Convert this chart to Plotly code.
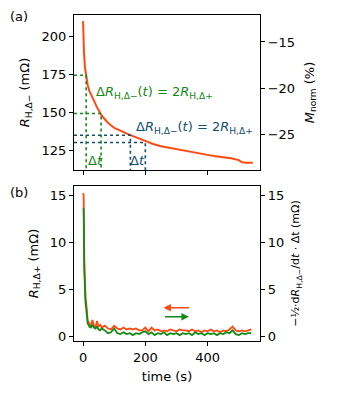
import plotly.graph_objects as go

# panel (a): R_H,Delta- vs time
t_a = [0, 1, 3, 6, 10, 15, 20, 30, 45, 60, 80, 100, 125, 150, 175, 200, 225, 250,
       275, 300, 325, 350, 375, 400, 425, 450, 475, 500, 510, 525, 545]
r_minus = [210, 200, 190, 180, 173.5, 168, 164.5, 160, 153.5, 148, 143.5, 140, 137.5,
           135.5, 133.5, 131.3, 129.5, 128, 127, 126, 125, 124, 123, 122.4, 121.5,
           120.8, 120.2, 119, 117.5, 117.2, 117.3]

# dotted construction lines: (t, level) pairs
green_t = [10, 58]
green_lvl = [174.5, 149.5]
blue_t = [152, 200]
blue_lvl = [135.3, 130.5]

# panel (b)
t_b = [0, 2, 4, 6, 8, 10, 12, 15, 18, 20, 25, 30, 35, 40, 45, 50, 55, 60, 70, 80, 90,
       100, 110, 120, 130, 140, 150, 160, 170, 180, 190, 200, 210, 220, 230, 240, 250,
       260, 270, 280, 290, 300, 310, 320, 330, 340, 350, 360, 370, 380, 390, 400, 410,
       420, 430, 440, 450, 460, 470, 480, 490, 500, 510, 520, 530, 540]
r_plus = [15.2, 15.0, 8.0, 4.0, 4.0, 3.6, 2.5, 1.6, 1.5, 1.3, 1.0, 1.7, 1.1, 1.0, 1.6,
          1.0, 1.2, 0.9, 1.1, 0.8, 0.7, 1.1, 0.8, 0.7, 0.9, 0.7, 0.8, 0.7, 0.8, 0.6,
          0.6, 0.9, 0.5, 0.9, 0.6, 0.7, 0.5, 0.6, 0.5, 0.7, 0.6, 0.5, 0.7, 0.6, 0.6,
          0.5, 0.7, 0.5, 0.6, 0.4, 0.6, 0.5, 0.7, 0.5, 0.6, 0.4, 0.6, 0.5, 0.7, 1.0,
          0.6, 0.5, 0.6, 0.5, 0.6, 0.7]
deriv = [13.6, 13.5, 7.0, 3.8, 3.5, 3.0, 2.0, 1.3, 1.2, 1.0, 0.9, 1.2, 0.9, 0.8, 1.0,
         0.7, 0.6, 0.8, 0.6, 0.3, 0.4, 0.8, 0.3, 0.2, 0.4, 0.2, 0.3, 0.1, 0.3, 0.2,
         0.4, 0.5, 0.2, 0.4, 0.1, 0.3, 0.2, 0.4, 0.1, 0.3, 0.2, 0.3, 0.1, 0.3, 0.2,
         0.3, 0.1, 0.4, 0.2, 0.3, 0.1, 0.3, 0.2, 0.3, 0.1, 0.3, 0.2, 0.4, 0.3, 0.6,
         0.2, 0.1, 0.3, 0.2, 0.3, 0.3]

RED = "#ff4a12"
GREEN = "#138a13"
BLUE = "#124e6e"
XR = [-29, 568]
YA = [112.5, 214]
YB = [-0.53, 15.96]

# page body has an 8px margin, so the figure is shrunk and placed accordingly
W, H, OFF = 321, 384, 8

fig = go.Figure()
fig.add_scatter(x=t_a, y=r_minus, mode="lines", line=dict(color=RED, width=2),
                xaxis="x", yaxis="y")
fig.add_scatter(x=[None], y=[None], xaxis="x", yaxis="y2")

for ts, lv, c in [(green_t, green_lvl, GREEN), (blue_t, blue_lvl, BLUE)]:
    for t, l in zip(ts, lv):
        fig.add_scatter(x=[XR[0], t, t], y=[l, l, YA[0]], mode="lines",
                        line=dict(color=c, width=1.6, dash="dot"), xaxis="x", yaxis="y")

fig.add_scatter(x=t_b, y=r_plus, mode="lines", line=dict(color=RED, width=1.8),
                xaxis="x2", yaxis="y3")
fig.add_scatter(x=t_b, y=deriv, mode="lines", line=dict(color=GREEN, width=1.8),
                xaxis="x2", yaxis="y4")

FS = 13
font = dict(family="DejaVu Sans", size=FS, color="black")
ax = dict(showline=True, linecolor="black", linewidth=1.2, mirror=True, ticks="outside",
          ticklen=4, tickcolor="black", showgrid=False, zeroline=False, automargin=False,
          tickfont=dict(family="DejaVu Sans", size=FS, color="black"))


def px_x(v):
    return (v - OFF) / W


def px_y(v):
    return 1 - (v - OFF) / H


dom_x = [px_x(74), px_x(260)]
dom_a = [px_y(170), px_y(15)]
dom_b = [px_y(341), px_y(186)]

fig.update_layout(
    width=W, height=H, margin=dict(l=0, r=0, t=0, b=0),
    plot_bgcolor="white", paper_bgcolor="white", showlegend=False, font=font,
    xaxis=dict(ax, domain=dom_x, range=XR, anchor="y", tickvals=[0, 200, 400],
               showticklabels=False),
    yaxis=dict(ax, domain=dom_a, range=YA, anchor="x", tickvals=[125, 150, 175, 200],
               title=dict(text="<i>R</i><sub>H,Δ−</sub> (mΩ)", standoff=8,
                          font=dict(size=FS))),
    yaxis2=dict(ax, range=[-28.9, -12.07], overlaying="y", side="right", anchor="x",
                mirror=False, tickvals=[-25, -20, -15], ticktext=["−25", "−20", "−15"],
                title=dict(text="<i>M</i><sub>norm</sub> (%)", standoff=10,
                           font=dict(size=FS))),
    xaxis2=dict(ax, domain=dom_x, range=XR, anchor="y3", tickvals=[0, 200, 400],
                title=dict(text="time (s)", standoff=8, font=dict(size=FS))),
    yaxis3=dict(ax, domain=dom_b, range=YB, anchor="x2", tickvals=[0, 5, 10, 15],
                title=dict(text="<i>R</i><sub>H,Δ+</sub> (mΩ)", standoff=8,
                           font=dict(size=FS))),
    yaxis4=dict(ax, range=YB, overlaying="y3", side="right", anchor="x2", mirror=False,
                tickvals=[0, 5, 10, 15],
                title=dict(text="−½·d<i>R</i><sub>H,Δ−</sub>/d<i>t</i> · Δt (mΩ)",
                           standoff=8, font=dict(size=11))),
)

for txt, yy in [("(a)", 16), ("(b)", 193)]:
    fig.add_annotation(xref="paper", yref="paper", x=px_x(8), y=px_y(yy), text=txt,
                       xanchor="left", yanchor="middle", showarrow=False,
                       font=dict(size=FS))

fig.add_annotation(x=36, y=163, xref="x", yref="y", xanchor="left", showarrow=False,
                   text="Δ<i>R</i><sub>H,Δ−</sub>(<i>t</i>) = 2<i>R</i><sub>H,Δ+</sub>",
                   font=dict(size=FS, color=GREEN))
fig.add_annotation(x=165, y=140, xref="x", yref="y", xanchor="left", showarrow=False,
                   text="Δ<i>R</i><sub>H,Δ−</sub>(<i>t</i>) = 2<i>R</i><sub>H,Δ+</sub>",
                   font=dict(size=FS, color=BLUE))
fig.add_annotation(x=40, y=118.4, xref="x", yref="y", showarrow=False,
                   text="Δ<i>t</i>", font=dict(size=FS, color=GREEN))
fig.add_annotation(x=176, y=118.4, xref="x", yref="y", showarrow=False,
                   text="Δ<i>t</i>", font=dict(size=FS, color=BLUE))

# direction arrows in panel (b)
fig.add_annotation(x=258, y=3.0, ax=345, ay=3.0, xref="x2", yref="y3", axref="x2",
                   ayref="y3", showarrow=True, arrowhead=2, arrowsize=1, arrowwidth=1.5,
                   arrowcolor=RED, text="")
fig.add_annotation(x=340, y=2.05, ax=258, ay=2.05, xref="x2", yref="y3", axref="x2",
                   ayref="y3", showarrow=True, arrowhead=2, arrowsize=1, arrowwidth=1.5,
                   arrowcolor=GREEN, text="")

fig.write_html("out.html")
